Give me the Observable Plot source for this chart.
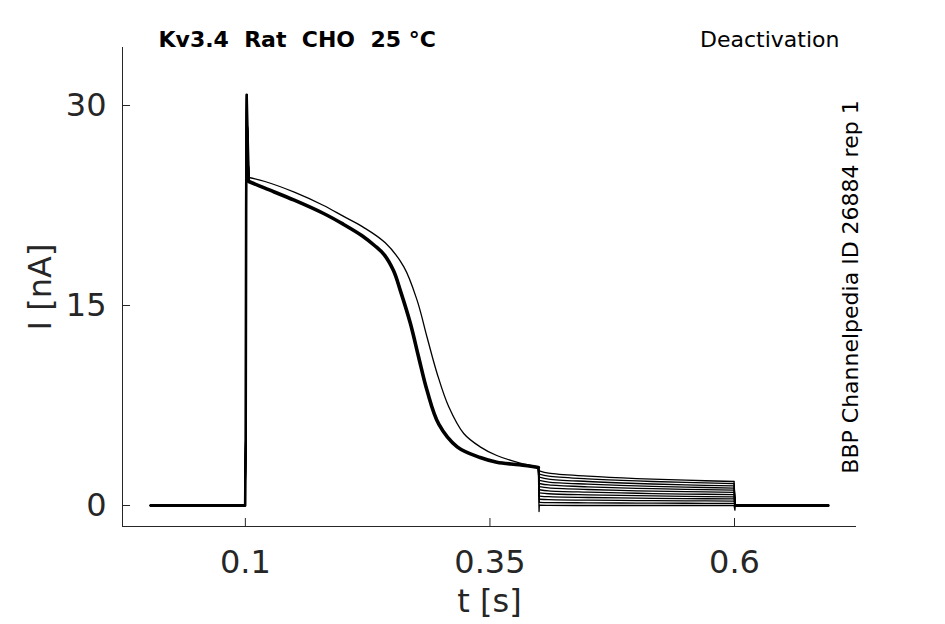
<!DOCTYPE html>
<html>
<head>
<meta charset="utf-8">
<script src="https://cdn.jsdelivr.net/npm/d3@7"></script>
<script src="https://cdn.jsdelivr.net/npm/@observablehq/plot@0.6"></script>
<style>
  html, body { margin: 0; padding: 0; background: #fff; }
</style>
</head>
<body>
<div id="chart"></div>
<script>
// ---- data ----
const xTicks = [0.1, 0.35, 0.6];
const xTickLabels = ["0.1", "0.35", "0.6"];
const yTicks = [0, 15, 30];
const yTickLabels = ["0", "15", "30"];

// baseline before / after the protocol
const preT = [0.003, 0.0998];
const postT = [0.6008, 0.696];

// capacitive spike at pulse onset
const spikeT = [0.1003, 0.1008, 0.1013, 0.1025];
const spikeI = [5, 22, 30.8, 27];

// main activation pulse (bundle of nearly identical sweeps)
const bundleT = [0.1035, 0.12, 0.15, 0.18, 0.2, 0.22, 0.232, 0.242, 0.2515, 0.2585, 0.2687, 0.2772, 0.2858, 0.2977, 0.3165, 0.34, 0.357, 0.38, 0.3995];
const bundleI = [24.3, 23.8, 22.9, 21.9, 21.1, 20.2, 19.5, 18.8, 17.6, 16.1, 13.65, 11.1, 8.6, 6.1, 4.4, 3.6, 3.25, 3.05, 2.85];

// one sweep that inactivates a bit later
const shiftT = [0.1035, 0.12, 0.15, 0.18, 0.2, 0.22, 0.243, 0.262, 0.2755, 0.2858, 0.296, 0.3079, 0.3232, 0.34, 0.357, 0.38, 0.3995];
const shiftI = [24.6, 24.3, 23.5, 22.5, 21.7, 20.9, 19.7, 17.9, 15.4, 12.6, 9.9, 7.4, 5.4, 4.4, 3.75, 3.2, 2.9];

// deactivation tails (one per sweep)
const tailT = [0.4005, 0.41, 0.45, 0.5, 0.55, 0.5995];
const tails = [
  [2.60, 2.42, 2.20, 2.02, 1.90, 1.80],
  [2.36, 2.20, 2.00, 1.84, 1.73, 1.64],
  [2.13, 1.98, 1.80, 1.65, 1.55, 1.47],
  [1.89, 1.76, 1.60, 1.47, 1.38, 1.31],
  [1.65, 1.54, 1.40, 1.29, 1.21, 1.15],
  [1.42, 1.32, 1.20, 1.10, 1.04, 0.98],
  [1.18, 1.10, 1.00, 0.92, 0.86, 0.82],
  [0.95, 0.88, 0.80, 0.74, 0.69, 0.65],
  [0.71, 0.66, 0.60, 0.55, 0.52, 0.49],
  [0.47, 0.44, 0.40, 0.37, 0.35, 0.33],
  [0.24, 0.22, 0.20, 0.18, 0.17, 0.16],
  [0.02, 0.01, 0.00, 0.00, 0.00, 0.00]
];
// small capacitive dips on the last sweep
const dipStart = [0.4002, -0.45];
const dipEnd = [0.6004, -0.35];

const xDomain = [-0.0256, 0.7247];
const yDomain = [-1.575, 34.35];

// ---- build line tables: sharp (linear) and smooth (curved) pieces ----
const sharp = [];
const smooth = [];
const zip = (ts, vs) => ts.map((t, i) => ({t, I: vs[i]}));
const last = tails.length - 1;
tails.forEach((tail, k) => {
  const body = k === 0 ? zip(shiftT, shiftI) : zip(bundleT, bundleI);
  const tailPts = zip(tailT, tail);
  const a = [...preT.map(t => ({t, I: 0})), ...zip(spikeT, spikeI), body[0]];
  const b = body;
  const c = [body[body.length - 1], ...(k === last ? [{t: dipStart[0], I: dipStart[1]}] : []), tailPts[0]];
  const d = tailPts;
  const e = [tailPts[tailPts.length - 1], ...(k === last ? [{t: dipEnd[0], I: dipEnd[1]}] : []), ...postT.map(t => ({t, I: 0}))];
  [a, c, e].forEach((seg, j) => seg.forEach(p => sharp.push({...p, seg: k + "-" + j})));
  [b, d].forEach((seg, j) => seg.forEach(p => smooth.push({...p, seg: k + "-" + j})));
});
const bundleRows = zip(bundleT, bundleI);
const bundleSharp = [...preT.map(t => ({t, I: 0})), ...zip(spikeT, spikeI), bundleRows[0]];
const postRows = postT.map(t => ({t, I: 0}));

const axisColor = "#262626";

const chart = Plot.plot({
  width: 945,
  height: 624,
  marginLeft: 122,
  marginRight: 89,
  marginTop: 47,
  marginBottom: 98,
  style: {fontFamily: "DejaVu Sans", background: "#fff", overflow: "visible"},
  x: {domain: xDomain},
  y: {domain: yDomain},
  marks: [
    Plot.ruleX([xDomain[0]], {stroke: axisColor, strokeWidth: 1}),
    Plot.ruleY([yDomain[0]], {stroke: axisColor, strokeWidth: 1}),
    Plot.ruleX(xTicks, {stroke: axisColor, strokeWidth: 1, insetTop: 471}),
    Plot.ruleY(yTicks, {stroke: axisColor, strokeWidth: 1, insetRight: 726}),
    Plot.axisX(xTicks, {tickSize: 0, tickPadding: 24, fontSize: 32, color: axisColor, label: null,
      tickFormat: d => xTickLabels[xTicks.indexOf(d)]}),
    Plot.axisY(yTicks, {tickSize: 0, tickPadding: 16, fontSize: 32, color: axisColor, label: null,
      tickFormat: d => yTickLabels[yTicks.indexOf(d)]}),
    Plot.line(sharp, {x: "t", y: "I", z: "seg", stroke: "black", strokeWidth: 1.3, strokeLinejoin: "round"}),
    Plot.line(smooth, {x: "t", y: "I", z: "seg", stroke: "black", strokeWidth: 1.3, curve: "catmull-rom"}),
    Plot.line(bundleSharp, {x: "t", y: "I", stroke: "black", strokeWidth: 2.6}),
    Plot.line(bundleRows, {x: "t", y: "I", stroke: "black", strokeWidth: 3.6, curve: "catmull-rom"}),
    Plot.line(postRows, {x: "t", y: "I", stroke: "black", strokeWidth: 2.6}),
    Plot.text(["I [nA]"], {frameAnchor: "left", text: d => d, rotate: -90, dx: -82, fontSize: 32, fill: axisColor, textAnchor: "middle", lineAnchor: "middle"}),
    Plot.text(["t [s]"], {frameAnchor: "bottom", text: d => d, dy: 85, fontSize: 32, fill: axisColor, textAnchor: "middle", lineAnchor: "bottom"}),
    Plot.text(["Kv3.4  Rat  CHO  25 °C"], {frameAnchor: "top-left", text: d => d, dx: 36, dy: -0.5, fontSize: 22, fontWeight: "bold", fill: "black", textAnchor: "start", lineAnchor: "bottom"}),
    Plot.text(["Deactivation"], {frameAnchor: "top-right", text: d => d, dx: -17, dy: -0.5, fontSize: 22, fill: "black", textAnchor: "end", lineAnchor: "bottom"}),
    Plot.text(["BBP Channelpedia ID 26884 rep 1"], {frameAnchor: "right", text: d => d, rotate: -90, dx: -6, fontSize: 22, fill: "black", textAnchor: "middle", lineAnchor: "middle"})
  ]
});
document.getElementById("chart").appendChild(chart);
</script>
</body>
</html>
